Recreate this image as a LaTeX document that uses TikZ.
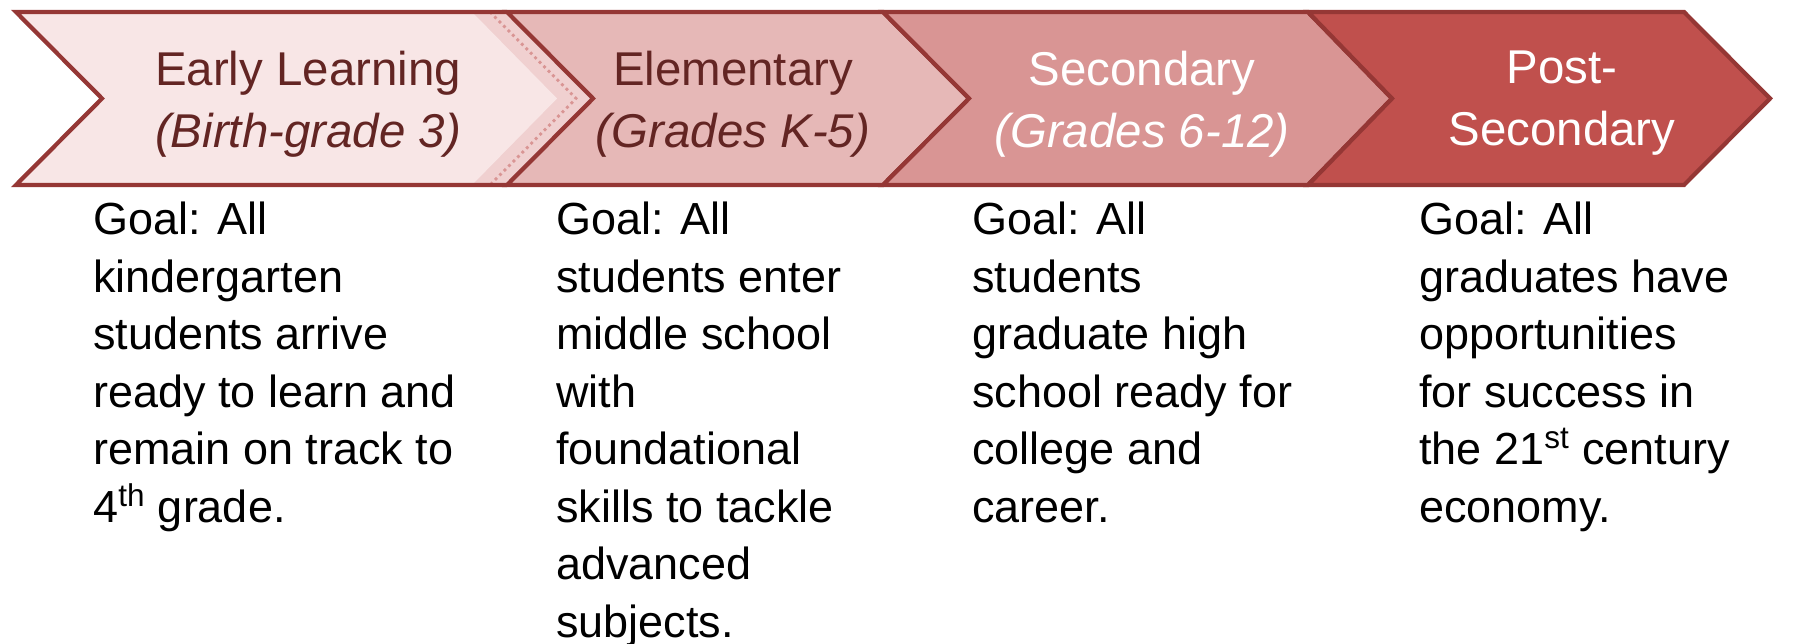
\documentclass[tikz,border=0pt]{standalone}
\usepackage{fontspec}
\setmainfont{Liberation Sans}
\usetikzlibrary{positioning}
\definecolor{rimred}{HTML}{953735}
\definecolor{inkred}{HTML}{632523}
\definecolor{stageone}{HTML}{F8E6E6}
\definecolor{stageband}{HTML}{F0D0D0}
\definecolor{stagetwo}{HTML}{E6B8B7}
\definecolor{stagethree}{HTML}{D99594}
\definecolor{stagefour}{HTML}{C0504D}
\tikzset{
chevron/.style={draw=rimred, line width=2.4pt, line join=miter}, % outline of every stage arrow
stage/.style={font=\fontsize{27}{31}\selectfont, align=center, text=inkred, inner sep=0pt, anchor=north}, % title in the arrow
goal/.style={font=\fontsize{25.6}{32.3}\selectfont, align=left, anchor=north west, inner sep=0pt}, % goal text below
}
\newcommand{\stagebreak}{\\[4pt]}
\newcommand{\goalbreak}{\\[0.4pt]}

\begin{document}
\begin{tikzpicture}[x=0.02cm,y=-0.02cm]
\useasboundingbox (0,0) rectangle (1818,644);
% the four stage arrows, drawn left to right
\fill[stageband] (16,12) -- (507,12) -- (593,98.5) -- (507,185) -- (16,185) -- (102,98.5) -- cycle;
\fill[stageone] (16,12) -- (472,12) -- (557,98.5) -- (472,185) -- (16,185) -- (102,98.5) -- cycle;
\draw[stagethree, line width=1.6pt, dotted] (490,12) -- (576,98.5) -- (490,185);
\draw[chevron] (507,12) -- (16,12) -- (102,98.5) -- (16,185) -- (507,185);
\draw[chevron, fill=stagetwo] (507,12) -- (883,12) -- (969,98.5) -- (883,185) -- (507,185) -- (593,98.5) -- cycle;
\draw[chevron, fill=stagethree] (883,12) -- (1308,12) -- (1392,98.5) -- (1308,185) -- (883,185) -- (969,98.5) -- cycle;
\draw[chevron, fill=stagefour] (1308,12) -- (1684,12) -- (1770,98.5) -- (1684,185) -- (1308,185) -- (1392,98.5) -- cycle;

\node[stage] (early) at (308,51) {Early Learning\stagebreak\textit{(Birth-grade 3)}};
\node[stage] (elem) at (733,51) {Elementary\stagebreak\textit{(Grades K-5)}};
\node[stage, text=white] (second) at (1142,51) {Secondary\stagebreak\textit{(Grades 6-12)}};
\node[stage, text=white] (post) at (1562,51) {Post-\stagebreak Secondary};

\node[goal] (goalearly) at (93,202) {Goal: All\goalbreak kindergarten\goalbreak students arrive\goalbreak ready to learn and\goalbreak remain on track to\goalbreak 4\textsuperscript{th} grade.};
\node[goal] (goalelem) at (556,202) {Goal: All\goalbreak students enter\goalbreak middle school\goalbreak with\goalbreak foundational\goalbreak skills to tackle\goalbreak advanced\goalbreak subjects.};
\node[goal] (goalsecond) at (972,202) {Goal: All\goalbreak students\goalbreak graduate high\goalbreak school ready for\goalbreak college and\goalbreak career.};
\node[goal] (goalpost) at (1419,202) {Goal: All\goalbreak graduates have\goalbreak opportunities\goalbreak for success in\goalbreak the 21\textsuperscript{st} century\goalbreak economy.};
\end{tikzpicture}
\end{document}
